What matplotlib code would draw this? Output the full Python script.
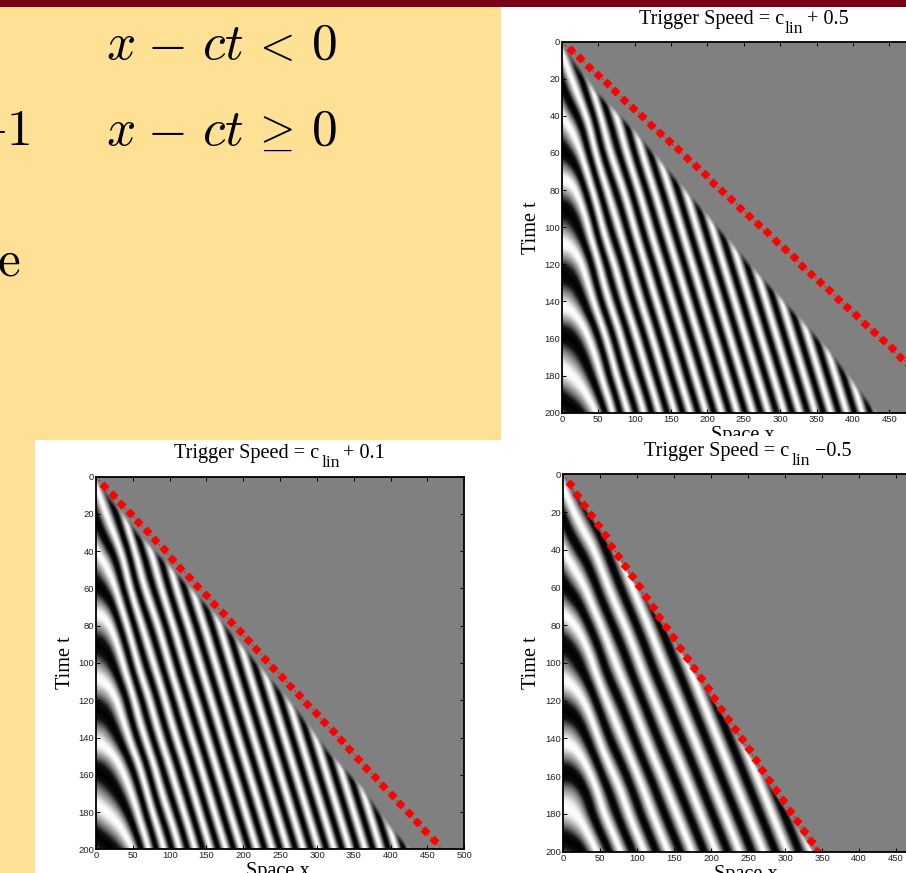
import numpy as np
import matplotlib
matplotlib.use('Agg')
import matplotlib.pyplot as plt
import matplotlib.tri as mtri
from matplotlib.colors import LinearSegmentedColormap
from matplotlib.patches import Rectangle
from matplotlib.transforms import Bbox

W, H = 906, 873

# stripe number (white stripe = whole number)
grid_x = [0, 25, 50, 75, 100, 150, 200, 250, 300, 350, 400, 450, 500]
grid_t = [0, 25, 50, 75, 100, 125, 150, 175, 200]

phase_a = [
    [-0.18, -1.2, -2.33, -3.49, -4.65, -6.98, -9.3, -11.63, -13.95, -16.28, -18.6, -20.93, -23.25],
    [0.56, -0.26, -1.43, -2.59, -3.75, -6.08, -8.4, -10.73, -13.05, -15.38, -17.7, -20.03, -22.35],
    [1.29, 0.69, -0.52, -1.69, -2.85, -5.18, -7.5, -9.83, -12.15, -14.48, -16.8, -19.13, -21.45],
    [2.03, 1.58, 0.38, -0.79, -1.95, -4.28, -6.6, -8.93, -11.25, -13.58, -15.9, -18.23, -20.55],
    [2.76, 2.4, 1.28, 0.11, -1.05, -3.38, -5.7, -8.03, -10.35, -12.68, -15.0, -17.33, -19.65],
    [3.5, 3.19, 2.18, 1.01, -0.15, -2.48, -4.8, -7.13, -9.45, -11.78, -14.1, -16.43, -18.75],
    [4.24, 3.96, 3.08, 1.91, 0.75, -1.58, -3.9, -6.23, -8.55, -10.88, -13.2, -15.53, -17.85],
    [4.97, 4.71, 3.98, 2.81, 1.65, -0.68, -3.0, -5.33, -7.65, -9.98, -12.3, -14.63, -16.95],
    [5.7, 5.45, 4.87, 3.71, 2.55, 0.22, -2.1, -4.43, -6.75, -9.08, -11.4, -13.73, -16.05],
]
phase_b = [
    [-0.18, -1.2, -2.38, -3.57, -4.76, -7.14, -9.52, -11.9, -14.28, -16.66, -19.04, -21.42, -23.8],
    [0.56, -0.26, -1.46, -2.65, -3.84, -6.22, -8.6, -10.98, -13.36, -15.74, -18.12, -20.5, -22.88],
    [1.29, 0.69, -0.54, -1.73, -2.92, -5.3, -7.68, -10.06, -12.44, -14.82, -17.2, -19.58, -21.96],
    [2.03, 1.58, 0.38, -0.81, -2.0, -4.38, -6.76, -9.14, -11.52, -13.9, -16.28, -18.66, -21.04],
    [2.76, 2.4, 1.3, 0.11, -1.08, -3.46, -5.84, -8.22, -10.6, -12.98, -15.36, -17.74, -20.12],
    [3.5, 3.19, 2.22, 1.03, -0.16, -2.54, -4.92, -7.3, -9.68, -12.06, -14.44, -16.82, -19.2],
    [4.24, 3.96, 3.14, 1.95, 0.76, -1.62, -4.0, -6.38, -8.76, -11.14, -13.52, -15.9, -18.28],
    [4.97, 4.71, 4.06, 2.87, 1.68, -0.7, -3.08, -5.46, -7.84, -10.22, -12.6, -14.98, -17.36],
    [5.7, 5.45, 4.95, 3.79, 2.6, 0.22, -2.16, -4.54, -6.92, -9.3, -11.68, -14.06, -16.44],
]
phase_c = [
    [-0.18, -0.93, -1.55, -2.33, -3.1, -4.65, -6.2, -7.75, -9.3, -10.85, -12.4, -13.95, -15.5],
    [0.56, -0.1, -0.75, -1.53, -2.3, -3.85, -5.4, -6.95, -8.5, -10.05, -11.6, -13.15, -14.7],
    [1.29, 0.77, 0.05, -0.73, -1.5, -3.05, -4.6, -6.15, -7.7, -9.25, -10.8, -12.35, -13.9],
    [2.03, 1.61, 0.85, 0.08, -0.7, -2.25, -3.8, -5.35, -6.9, -8.45, -10.0, -11.55, -13.1],
    [2.76, 2.41, 1.65, 0.88, 0.1, -1.45, -3.0, -4.55, -6.1, -7.65, -9.2, -10.75, -12.3],
    [3.5, 3.21, 2.45, 1.68, 0.9, -0.65, -2.2, -3.75, -5.3, -6.85, -8.4, -9.95, -11.5],
    [4.24, 3.99, 3.25, 2.48, 1.7, 0.15, -1.4, -2.95, -4.5, -6.05, -7.6, -9.15, -10.7],
    [4.97, 4.75, 4.05, 3.28, 2.5, 0.95, -0.6, -2.15, -3.7, -5.25, -6.8, -8.35, -9.9],
    [5.7, 5.5, 4.85, 4.08, 3.3, 1.75, 0.2, -1.35, -2.9, -4.45, -6.0, -7.55, -9.1],
]

# where the waves stop and the grey starts
front_t_a = [0, 10, 26, 46, 67, 96, 121, 148, 168, 200]
front_x_a = [0, 18, 48, 98, 144, 208, 263, 327, 373, 435]
front_t_b = [0, 10, 31, 53, 74, 99, 124, 148, 167, 187, 200]
front_x_b = [0, 18, 60, 114, 164, 218, 272, 318, 363, 399, 428]
front_t_c = [0, 200]
front_x_c = [0, 340]

# trigger line: end point at t = 200 and the spacing of the diamonds
trigger_end = [548, 470, 344]
dot_step = [4.47, 4.88, 5.4]

x_ticks = [0, 50, 100, 150, 200, 250, 300, 350, 400, 450, 500]
t_ticks = [0, 20, 40, 60, 80, 100, 120, 140, 160, 180, 200]

titles = ['+ 0.5', '+ 0.1', '\u22120.5']

plt.rcParams['mathtext.fontset'] = 'cm'
SERIF = 'Liberation Serif'
SANS = 'Liberation Sans'
stripes = LinearSegmentedColormap.from_list('stripes', [
    (0.0, '#ffffff'), (0.08, '#f0f0f0'), (0.25, '#808080'), (0.38, '#101010'), (0.5, '#000000'),
    (0.62, '#101010'), (0.75, '#808080'), (0.92, '#f0f0f0'), (1.0, '#ffffff')])


def px_text(fig, x, y, s, **kw):
    return fig.text(x / W, 1 - y / H, s, **kw)


def panel(fig, box, phase, front_t, front_x, fade, end_x, step, extra,
          title_x, title_y, lin_off, extra_off, label_x, space_x, clip_y):
    left, top, right, bottom = box
    ax = fig.add_axes([left / W, 1 - bottom / H, (right - left) / W, (bottom - top) / H])
    ax.set_facecolor('#808080')

    gx, gt = np.meshgrid(grid_x, grid_t)
    tr = mtri.Triangulation(gx.ravel(), gt.ravel())
    interp = mtri.CubicTriInterpolator(tr, np.array(phase).ravel(), kind='min_E')
    xx, tt = np.meshgrid(np.linspace(0, 500, 501), np.linspace(0, 200, 401))
    vals = np.ma.filled(interp(xx, tt), 0.0)
    rgba = stripes(vals % 1.0)
    rgba[..., 3] = np.clip((np.interp(tt, front_t, front_x) - xx) / fade, 0, 1)
    ax.imshow(rgba, extent=[0, 500, 200, 0], aspect='auto', interpolation='bilinear')

    ax.plot([0, end_x], [0, 200], color='#ff0000', lw=0.6, ls=(0, (2.5, 2.5)))
    dots = np.arange(step, 200, step)
    ax.plot(end_x / 200 * dots, dots, ls='none', marker='D', ms=4.6, color='#ff0000', mec='none')

    ax.set_xlim(0, 500)
    ax.set_ylim(200, 0)
    ax.set_xticks(x_ticks)
    ax.set_yticks(t_ticks)
    ax.tick_params(direction='in', length=3, width=0.7, top=True, right=True, pad=1.5,
                   labelsize=6.8, labelcolor='#222222')
    for lab in ax.get_xticklabels() + ax.get_yticklabels():
        lab.set_family(SANS)
    for s in ax.spines.values():
        s.set_linewidth(1.3)

    # title in three pieces, the subscript is nearly full size in the original
    px_text(fig, title_x, title_y, 'Trigger Speed = c', family=SERIF, fontsize=14.6, ha='left', va='baseline')
    px_text(fig, title_x + lin_off, title_y + 9, 'lin', family=SERIF, fontsize=12.5, ha='left', va='baseline')
    px_text(fig, title_x + extra_off, title_y, extra, family=SERIF, fontsize=14.6, ha='left', va='baseline')

    px_text(fig, label_x, (top + bottom) / 2, 'Time t', family=SERIF, fontsize=14.6,
            rotation=90, ha='center', va='center')
    t = px_text(fig, space_x, bottom + 27, 'Space x', family=SERIF, fontsize=14.6, ha='center', va='baseline')
    if clip_y is not None:
        t.set_clip_box(Bbox([[0, 1 - clip_y / H], [1, 1]]).transformed(fig.transFigure))
        t.set_clip_on(True)
    return ax


fig = plt.figure(figsize=(W / 100, H / 100), dpi=100, facecolor='white')

fig.patches.append(Rectangle((0, 1 - 440 / H), 501 / W, 440 / H, transform=fig.transFigure,
                             color='#fee195', lw=0))
fig.patches.append(Rectangle((0, 0), 35 / W, 1, transform=fig.transFigure, color='#fee195', lw=0))
fig.patches.append(Rectangle((0, 1 - 6.5 / H), 1, 6.5 / H, transform=fig.transFigure, color='#7a0019', lw=0))

# the formula pieces sit wider apart than mathtext spaces them
eq_bits = [(106, '$x$'), (147, '$-$'), (202, '$ct$'), (311, '$0$')]
for base, rel in [(59, '$<$'), (145, r'$\geq$')]:
    for bx, s in eq_bits:
        px_text(fig, bx, base, s, fontsize=37, ha='left', va='baseline')
    px_text(fig, 251, base, rel, fontsize=33, ha='left', va='baseline')
px_text(fig, 31, 145, r'$+1$', fontsize=37, ha='right', va='baseline')
px_text(fig, 20, 275, r'$\mathrm{e}$', fontsize=37, ha='right', va='baseline')

panel(fig, (562, 41.7, 925.6, 412.7), phase_a, front_t_a, front_x_a, 8, trigger_end[0], dot_step[0],
      titles[0], 639, 24, 146, 168, 531, 743, 436)
panel(fig, (96, 476.7, 464.3, 849.3), phase_b, front_t_b, front_x_b, 8, trigger_end[1], dot_step[1],
      titles[1], 174, 458, 148, 169, 66, 278, None)
panel(fig, (563.3, 474.3, 933, 851.7), phase_c, front_t_c, front_x_c, 4, trigger_end[2], dot_step[2],
      titles[2], 644, 456, 148, 171, 532, 746, None)

fig.savefig('out.png', dpi=100)
